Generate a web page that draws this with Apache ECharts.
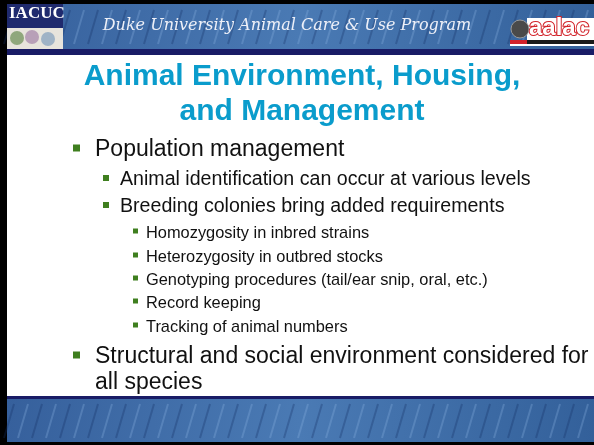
<!DOCTYPE html>
<html>
<head>
<meta charset="utf-8">
<script src="https://cdn.jsdelivr.net/npm/echarts@6/dist/echarts.min.js"></script>
<style>
  html, body { margin: 0; padding: 0; background: #000; }
  #chart { width: 594px; height: 445px; }
</style>
</head>
<body>
<div id="chart"></div>
<script>
// 幻灯片文本
const headerText = 'Duke University Animal Care & Use Program';
const titleLines = ['Animal Environment, Housing,', 'and Management'];
// [级别, 文本]
const bulletItems = [
    [1, 'Population management'],
    [2, 'Animal identification can occur at various levels'],
    [2, 'Breeding colonies bring added requirements'],
    [3, 'Homozygosity in inbred strains'],
    [3, 'Heterozygosity in outbred stocks'],
    [3, 'Genotyping procedures (tail/ear snip, oral, etc.)'],
    [3, 'Record keeping'],
    [3, 'Tracking of animal numbers'],
    [1, 'Structural and social environment considered for'],
    [0, 'all species']
];
const bulletY = [150, 180, 207, 233, 257, 280, 303, 327, 357, 383];

// 样式常量
const LEVEL_STYLE = {
    0: { x: 95, size: 23, bx: 73, b: 7 },
    1: { x: 95, size: 23, bx: 73, b: 7 },
    2: { x: 120, size: 19.6, bx: 103, b: 6 },
    3: { x: 146, size: 16.4, bx: 133, b: 5 }
};
const BULLET_COLOR = '#3f7f1f';

const chart = echarts.init(document.getElementById('chart'));

function bandFill() {
    return new echarts.graphic.LinearGradient(0, 0, 1, 1, [
        { offset: 0, color: '#36609c' },
        { offset: 0.5, color: '#4a7ab4' },
        { offset: 1, color: '#33609a' }
    ]);
}

const elements = [];

// 白色背景
elements.push({ type: 'rect', shape: { x: 7, y: 4, width: 587, height: 438 }, style: { fill: '#ffffff' } });

// 顶部条
elements.push({ type: 'rect', shape: { x: 7, y: 4, width: 587, height: 46 }, style: { fill: bandFill() } });
elements.push({ type: 'rect', shape: { x: 7, y: 49, width: 587, height: 6 }, style: { fill: '#191c66' } });

// 底部条
elements.push({ type: 'rect', shape: { x: 7, y: 398, width: 587, height: 44 }, style: { fill: bandFill() } });
elements.push({ type: 'rect', shape: { x: 7, y: 396, width: 587, height: 3 }, style: { fill: '#191c66' } });

// 纹理条纹
for (let i = 0; i < 42; i++) {
    const x0 = 4 + i * 14;
    [[6, 48], [400, 442]].forEach(([y0, y1]) => {
        elements.push({
            type: 'line',
            shape: { x1: x0, y1: y1 - 4, x2: x0 + 10, y2: y0 + 4 },
            style: { stroke: i % 2 ? 'rgba(140,180,225,0.30)' : 'rgba(20,45,100,0.30)', lineWidth: 2 }
        });
    });
}

// IACUC 标志
elements.push({ type: 'rect', shape: { x: 7, y: 4, width: 56, height: 24 }, style: { fill: '#1f2a6e' } });
elements.push({
    type: 'text', x: 9, y: 5,
    style: { text: 'IACUC', fill: '#ffffff', font: 'bold 17px "Liberation Serif"' }
});
elements.push({ type: 'rect', shape: { x: 7, y: 28, width: 56, height: 21 }, style: { fill: '#e7e4dc' } });
elements.push({ type: 'circle', shape: { cx: 17, cy: 38, r: 7 }, style: { fill: '#8fa77c' } });
elements.push({ type: 'circle', shape: { cx: 32, cy: 37, r: 7 }, style: { fill: '#b8a0b8' } });
elements.push({ type: 'circle', shape: { cx: 48, cy: 39, r: 7 }, style: { fill: '#9fb3c6' } });

// AAALAC 标志
elements.push({ type: 'rect', shape: { x: 527, y: 18, width: 67, height: 22 }, style: { fill: '#ffffff' } });
elements.push({ type: 'rect', shape: { x: 527, y: 40, width: 67, height: 4 }, style: { fill: '#1a1a1a' } });
elements.push({ type: 'rect', shape: { x: 510, y: 40, width: 17, height: 4 }, style: { fill: '#d2232a' } });
elements.push({ type: 'rect', shape: { x: 510, y: 44, width: 84, height: 2 }, style: { fill: '#ffffff' } });
elements.push({ type: 'circle', shape: { cx: 520, cy: 29, r: 9 }, style: { fill: '#4a4a4a', stroke: '#9a9a9a', lineWidth: 1 } });
elements.push({
    type: 'text', x: 529, y: 16,
    style: { text: 'aalac', fill: '#ffffff', stroke: '#d2232a', lineWidth: 2, font: 'bold 24px "Liberation Sans"' }
});

// 页眉文字
elements.push({
    type: 'text', x: 287, y: 26,
    style: {
        text: headerText, fill: '#eef0f8', align: 'center', verticalAlign: 'middle',
        font: 'italic 16px "DejaVu Serif"'
    }
});

// 标题
titleLines.forEach((t, i) => {
    elements.push({
        type: 'text', x: 302, y: 77 + i * 35,
        style: {
            text: t, fill: '#0a9ccc', align: 'center', verticalAlign: 'middle',
            font: 'bold 30px "Liberation Sans"'
        }
    });
});

// 项目符号
bulletItems.forEach(([level, text], i) => {
    const s = LEVEL_STYLE[level];
    const y = bulletY[i];
    if (level > 0) {
        elements.push({
            type: 'rect',
            shape: { x: s.bx, y: y - s.b / 2 - 2, width: s.b, height: s.b },
            style: { fill: BULLET_COLOR }
        });
    }
    elements.push({
        type: 'text', x: s.x, y: y,
        style: {
            text: text, fill: '#111111', verticalAlign: 'middle',
            font: s.size + 'px "Liberation Sans"'
        }
    });
});

chart.setOption({
    backgroundColor: '#000000',
    animation: false,
    graphic: { elements: elements }
});
</script>
</body>
</html>
